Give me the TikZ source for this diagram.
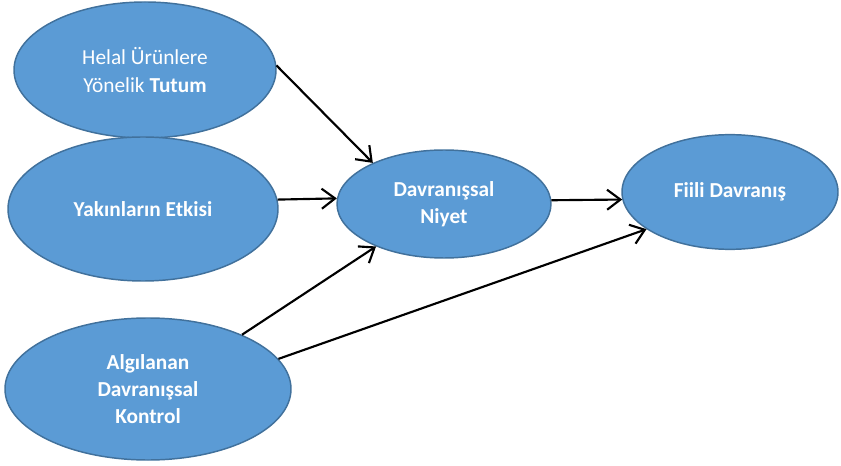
\documentclass[tikz,border=0pt]{standalone}
\usepackage{fontspec}
\setmainfont{Carlito}
\usetikzlibrary{arrows.meta, shapes.geometric}
\definecolor{ovalfill}{HTML}{5B9BD5}
\definecolor{ovaledge}{HTML}{41719C}

\begin{document}
\begin{tikzpicture}[
    x=0.75pt, y=-0.75pt,
    construct/.style={ellipse, draw=ovaledge, fill=ovalfill,
                      line width=1.1pt, inner sep=0pt, text=white,
                      font=\fontsize{16}{20.5}\selectfont\bfseries, align=center},
    link/.style={-{Straight Barb[length=10pt, width=15pt]}, line width=1.6pt}
  ]
  \useasboundingbox (0,0) rectangle (841,466);

  % Predictors
  \node[construct, minimum width=196.5pt, minimum height=102pt,
        font=\fontsize{16}{20.5}\selectfont] (tutum) at (145, 70)
        {Helal Ürünlere\\Yönelik \textbf{Tutum}};
  \node[construct, minimum width=202.5pt, minimum height=108pt] (etki) at (143, 209)
        {Yakınların Etkisi};
  \node[construct, minimum width=214.5pt, minimum height=106.5pt] (kontrol) at (148, 389)
        {Algılanan\\Davranışsal\\Kontrol};

  % Intention and behaviour
  \node[construct, minimum width=160.5pt, minimum height=81pt] (niyet) at (444, 204)
        {Davranışsal\\Niyet};
  \node[construct, minimum width=162pt, minimum height=86pt] (fiili) at (730, 192)
        {Fiili Davranış};

  % Paths
  \draw[link] (tutum.2) -- (niyet.150);
  \draw[link] (etki.4.7) -- (niyet.177);
  \draw[link] (kontrol.30.8) -- (niyet.212.7);
  \draw[link] (niyet.2) -- (fiili.184);
  \draw[link] (kontrol.13.5) -- (fiili.204);
\end{tikzpicture}
\end{document}
